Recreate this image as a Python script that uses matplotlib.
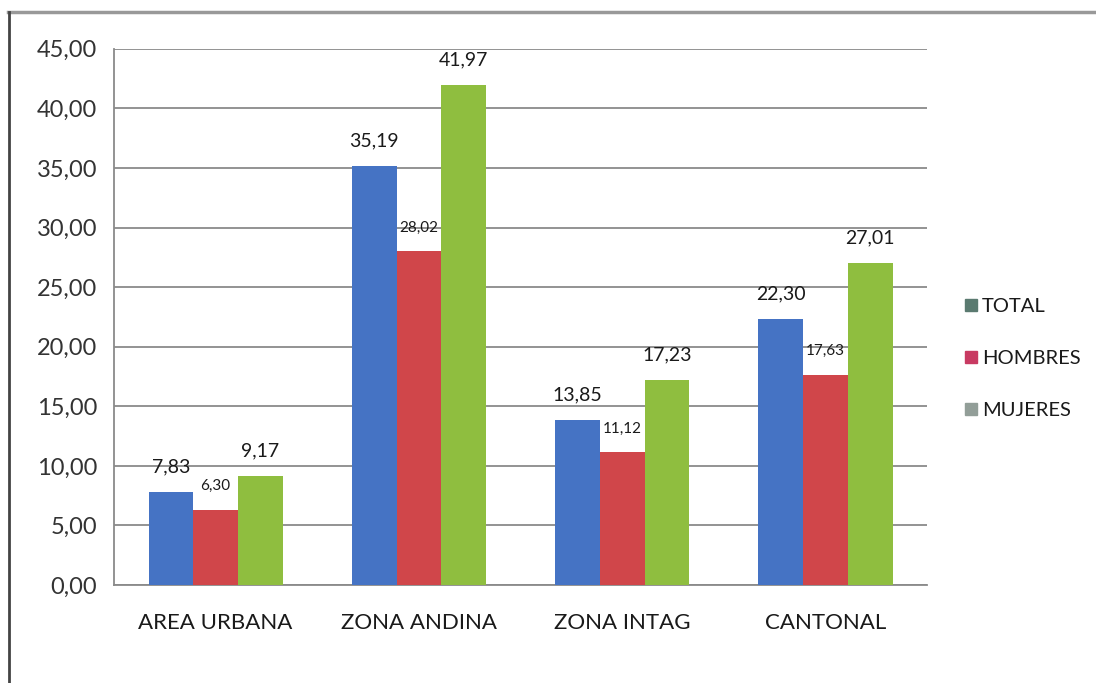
import matplotlib.pyplot as plt
import numpy as np
from matplotlib.lines import Line2D

categorias = ["AREA URBANA", "ZONA ANDINA", "ZONA INTAG", "CANTONAL"]
series = ["TOTAL", "HOMBRES", "MUJERES"]
total = [7.83, 35.19, 13.85, 22.30]
hombres = [6.30, 28.02, 11.12, 17.63]
mujeres = [9.17, 41.97, 17.23, 27.01]
yticks = [0, 5, 10, 15, 20, 25, 30, 35, 40, 45]

colores = ['#4573c4', '#d0464a', '#8fbe3f']
colores_leyenda = ['#5a7a70', '#c83a62', '#929e98']

plt.rcParams['font.family'] = ['Lato', 'DejaVu Sans']


def fmt(v):
    return ("%.2f" % v).replace(".", ",")


fig = plt.figure(figsize=(10.96, 6.83), dpi=100)
ax = fig.add_axes([0.104, 0.1435, 0.742, 0.785])

x = np.arange(len(categorias))
width = 0.22
datos = [total, hombres, mujeres]
for i, (vals, color) in enumerate(zip(datos, colores)):
    pos = x + (i - 1) * width
    ax.bar(pos, vals, width, color=color, zorder=3)
    size = 11 if i == 1 else 14
    for px, v in zip(pos, vals):
        ax.annotate(fmt(v), (px, v), xytext=(0, 12), textcoords='offset points',
                    ha='center', va='bottom', fontsize=size, color='#1a1a1a', zorder=4)

ax.set_xlim(-0.5, len(categorias) - 0.5)
ax.set_ylim(0, 45)
ax.set_yticks(yticks)
ax.set_yticklabels([fmt(v) for v in yticks], fontsize=17, color='#333333')
ax.set_xticks(x)
ax.set_xticklabels(categorias, fontsize=16, color='#1a1a1a')
ax.tick_params(axis='both', length=0, pad=12)
ax.tick_params(axis='x', pad=20)
ax.yaxis.grid(True, color='#8a8a8a', linewidth=1.3, zorder=0)

for s in ['top', 'right']:
    ax.spines[s].set_visible(False)
ax.spines['left'].set_color('#8a8a8a')
ax.spines['bottom'].set_color('#8a8a8a')
ax.spines['left'].set_linewidth(1.3)
ax.spines['bottom'].set_linewidth(1.3)

handles = [Line2D([], [], marker='s', linestyle='', markersize=8, color=c) for c in colores_leyenda]
leg = fig.legend(handles, series, loc='center left', bbox_to_anchor=(0.862, 0.475),
                 frameon=False, fontsize=14.5, handletextpad=0.15, labelspacing=1.75,
                 handlelength=0.8)
for t in leg.get_texts():
    t.set_color('#1a1a1a')

# marco de la imagen
fig.add_artist(Line2D([0.0075, 1.0], [0.983, 0.983], transform=fig.transFigure,
                      color='#999999', linewidth=2.5))
fig.add_artist(Line2D([0.0085, 0.0085], [0.0, 0.983], transform=fig.transFigure,
                      color='#444444', linewidth=2))

fig.savefig("out.png", dpi=100)
